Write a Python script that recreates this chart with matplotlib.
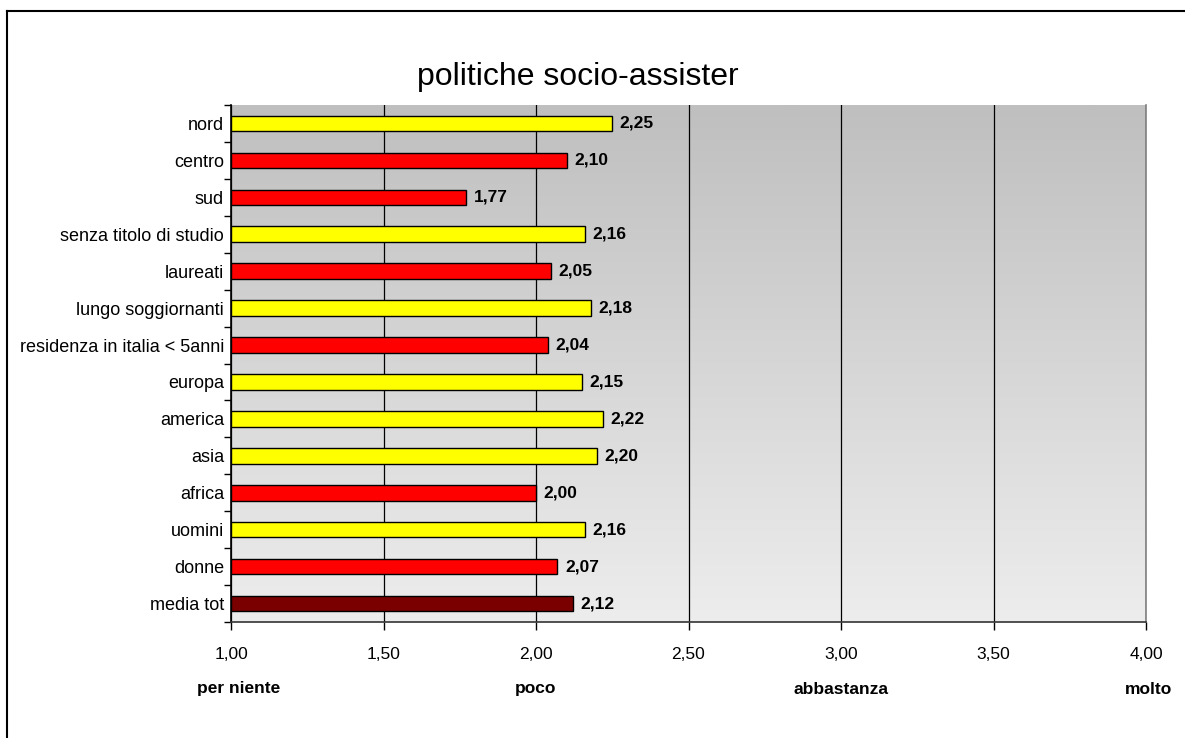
import numpy as np
import matplotlib
matplotlib.use("Agg")
import matplotlib.pyplot as plt
from matplotlib.lines import Line2D
from matplotlib.ticker import FixedLocator

plt.rcParams['font.family'] = ['Liberation Sans', 'DejaVu Sans']

categories = ["nord", "centro", "sud", "senza titolo di studio", "laureati",
              "lungo soggiornanti", "residenza in italia < 5anni", "europa",
              "america", "asia", "africa", "uomini", "donne", "media tot"]
values = [2.25, 2.10, 1.77, 2.16, 2.05, 2.18, 2.04, 2.15, 2.22, 2.20, 2.00, 2.16, 2.07, 2.12]
bar_colors = ["#FFFF00", "#FF0000", "#FF0000", "#FFFF00", "#FF0000", "#FFFF00", "#FF0000",
              "#FFFF00", "#FFFF00", "#FFFF00", "#FF0000", "#FFFF00", "#FF0000", "#7A0000"]
x_ticks = [1.0, 1.5, 2.0, 2.5, 3.0, 3.5, 4.0]
scale_words = ["per niente", "poco", "abbastanza", "molto"]
scale_pos = [1.0, 2.0, 3.0, 4.0]
title = "politiche socio-assister"

W, H = 1185, 738
fig = plt.figure(figsize=(W / 100, H / 100), dpi=100)
ax = fig.add_axes([231 / W, 1 - 622 / H, (1146 - 231) / W, (622 - 105) / H])

n = len(categories)
y = np.arange(n)
xmin, xmax = 1.0, 4.0
ylo, yhi = n - 0.5, -0.5

# gradient background
grad = np.linspace(0, 1, 256).reshape(-1, 1)
top_c = np.array([191, 191, 191]) / 255
bot_c = np.array([237, 237, 237]) / 255
img = top_c[None, None, :] * (1 - grad[:, :, None]) + bot_c[None, None, :] * grad[:, :, None]
ax.imshow(img, extent=[xmin, xmax, ylo, yhi], aspect='auto', zorder=0, interpolation='bilinear')

vals = np.array(values)
ax.barh(y, vals - xmin, left=xmin, height=0.42, color=bar_colors, edgecolor='black',
        linewidth=1.0, zorder=3)

for yi, v in zip(y, values):
    ax.text(v + 0.025, yi, f"{v:.2f}".replace('.', ','), va='center', ha='left',
            fontsize=12.5, fontweight='bold', zorder=4)

ax.set_xlim(xmin, xmax)
ax.set_ylim(ylo, yhi)

ax.xaxis.set_major_locator(FixedLocator(x_ticks))
ax.set_xticklabels([f"{t:.2f}".replace('.', ',') for t in x_ticks], fontsize=12.5)
ax.grid(axis='x', color='black', linewidth=0.9, zorder=1)
ax.tick_params(axis='x', direction='out', length=6, width=1, pad=12, color='black')

ax.set_yticks(y)
ax.set_yticklabels(categories, fontsize=13)
ax.tick_params(axis='y', which='major', length=0, pad=5)
ax.yaxis.set_minor_locator(FixedLocator(np.arange(-0.5, n, 1.0)))
ax.tick_params(axis='y', which='minor', direction='out', length=5, width=1, color='black')

ax.spines['top'].set_visible(False)
ax.spines['right'].set_color('#808080')
ax.spines['left'].set_color('black')
ax.spines['bottom'].set_color('#333333')
for s in ['left', 'bottom', 'right']:
    ax.spines[s].set_linewidth(1.2)

for word, pos in zip(scale_words, scale_pos):
    ax.annotate(word, xy=(pos, 0), xycoords=('data', 'axes fraction'),
                xytext=(8 if pos == 1.0 else (3 if pos == 4.0 else 0), -67),
                textcoords='offset pixels', ha='center', va='center',
                fontsize=12.5, fontweight='bold', annotation_clip=False)

fig.text(578 / W, 1 - 77 / H, title, ha='center', va='center', fontsize=23)

# outer chart border
fig.add_artist(Line2D([7 / W, 7 / W], [0, 1 - 11 / H], color='black', linewidth=1.5,
                      transform=fig.transFigure))
fig.add_artist(Line2D([7 / W, 1.0], [1 - 11 / H, 1 - 11 / H], color='black', linewidth=1.5,
                      transform=fig.transFigure))

fig.savefig("out.png", dpi=100, facecolor='white')
